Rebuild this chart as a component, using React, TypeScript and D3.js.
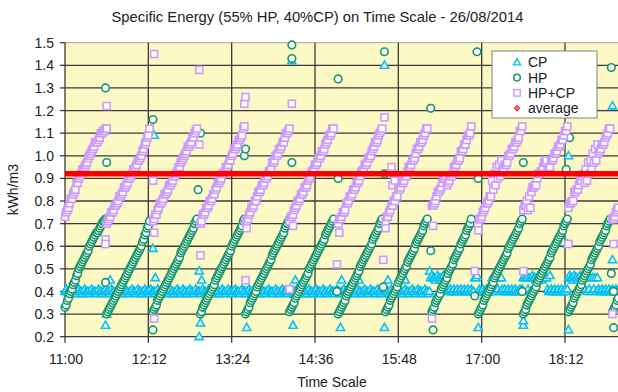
import React from "react";
import * as d3 from "d3";

// ---------- DATA ----------
const chartTitle = "Specific Energy (55% HP, 40%CP)  on Time Scale - 26/08/2014";
const yAxisTitle = "kWh/m3";
const xAxisTitle = "Time Scale";
const xTickLabels = ["11:00", "12:12", "13:24", "14:36", "15:48", "17:00", "18:12"];
const yTickValues = [0.2, 0.3, 0.4, 0.5, 0.6, 0.7, 0.8, 0.9, 1.0, 1.1, 1.2, 1.3, 1.4, 1.5];
const seriesNames = ["CP", "HP", "HP+CP", "average"];

// logged every minute
const sampleStepMin = 1;

// start time of each HP charging cycle (ramp)
const cycleStarts = ["11:00", "11:36", "12:16", "12:57", "13:36", "14:14", "14:56", "15:37", "16:17", "16:57", "17:36", "18:15", "18:53"];

// HP specific energy, one row per cycle
const hpCycles = [
  [0.33, 0.34, 0.36, 0.37, 0.39, 0.40, 0.41, 0.43, 0.44, 0.45, 0.47, 0.48, 0.50, 0.51, 0.52, 0.53, 0.54, 0.55, 0.56, 0.57, 0.58, 0.60, 0.61, 0.62, 0.63, 0.64, 0.65, 0.66, 0.66, 0.67, 0.68, 0.69, 0.70, 0.71, 0.71, 0.72, 0.72],
  [0.30, 0.31, 0.32, 0.33, 0.34, 0.35, 0.36, 0.37, 0.38, 0.39, 0.40, 0.41, 0.42, 0.43, 0.44, 0.45, 0.46, 0.47, 0.48, 0.49, 0.50, 0.51, 0.52, 0.53, 0.54, 0.55, 0.56, 0.57, 0.58, 0.59, 0.60, 0.62, 0.63, 0.65, 0.66, 0.68, 0.69, 0.71],
  [0.31, 0.32, 0.33, 0.34, 0.36, 0.37, 0.38, 0.39, 0.40, 0.41, 0.42, 0.43, 0.44, 0.45, 0.46, 0.47, 0.48, 0.49, 0.50, 0.51, 0.52, 0.53, 0.54, 0.55, 0.57, 0.58, 0.59, 0.60, 0.61, 0.62, 0.63, 0.64, 0.65, 0.66, 0.67, 0.68, 0.70, 0.71, 0.72],
  [0.30, 0.31, 0.33, 0.34, 0.35, 0.36, 0.37, 0.38, 0.39, 0.40, 0.41, 0.42, 0.43, 0.45, 0.46, 0.47, 0.48, 0.49, 0.50, 0.51, 0.52, 0.53, 0.54, 0.55, 0.56, 0.57, 0.58, 0.60, 0.61, 0.62, 0.63, 0.64, 0.65, 0.66, 0.67, 0.68, 0.69, 0.71, 0.72],
  [0.30, 0.31, 0.32, 0.33, 0.35, 0.36, 0.37, 0.38, 0.39, 0.40, 0.42, 0.43, 0.44, 0.45, 0.46, 0.47, 0.48, 0.49, 0.50, 0.51, 0.52, 0.53, 0.54, 0.56, 0.57, 0.58, 0.59, 0.60, 0.61, 0.62, 0.63, 0.64, 0.65, 0.66, 0.68, 0.69, 0.70, 0.71, 0.72],
  [0.31, 0.32, 0.33, 0.34, 0.35, 0.37, 0.38, 0.39, 0.40, 0.41, 0.42, 0.43, 0.44, 0.45, 0.46, 0.47, 0.48, 0.50, 0.51, 0.52, 0.53, 0.54, 0.55, 0.56, 0.57, 0.58, 0.59, 0.60, 0.61, 0.62, 0.63, 0.65, 0.66, 0.67, 0.68, 0.69, 0.70, 0.71, 0.72],
  [0.30, 0.31, 0.32, 0.33, 0.34, 0.35, 0.36, 0.38, 0.39, 0.40, 0.41, 0.42, 0.43, 0.44, 0.45, 0.46, 0.47, 0.48, 0.49, 0.51, 0.52, 0.53, 0.54, 0.55, 0.56, 0.57, 0.58, 0.59, 0.60, 0.61, 0.63, 0.64, 0.65, 0.66, 0.67, 0.68, 0.70, 0.71, 0.72],
  [0.31, 0.32, 0.33, 0.34, 0.36, 0.37, 0.38, 0.39, 0.40, 0.41, 0.42, 0.44, 0.45, 0.46, 0.47, 0.48, 0.49, 0.50, 0.51, 0.53, 0.54, 0.55, 0.56, 0.57, 0.58, 0.59, 0.61, 0.62, 0.63, 0.64, 0.65, 0.66, 0.67, 0.69, 0.70, 0.71, 0.72],
  [0.31, 0.32, 0.33, 0.35, 0.36, 0.37, 0.38, 0.39, 0.41, 0.42, 0.43, 0.44, 0.45, 0.46, 0.48, 0.49, 0.50, 0.51, 0.52, 0.54, 0.55, 0.56, 0.57, 0.58, 0.59, 0.61, 0.62, 0.63, 0.64, 0.65, 0.67, 0.68, 0.69, 0.70, 0.72],
  [0.30, 0.31, 0.32, 0.33, 0.34, 0.36, 0.37, 0.38, 0.39, 0.40, 0.41, 0.42, 0.43, 0.44, 0.46, 0.47, 0.48, 0.49, 0.50, 0.51, 0.52, 0.53, 0.54, 0.55, 0.56, 0.57, 0.59, 0.60, 0.61, 0.62, 0.63, 0.64, 0.65, 0.66, 0.67, 0.68, 0.70, 0.71, 0.72],
  [0.30, 0.31, 0.32, 0.34, 0.35, 0.36, 0.37, 0.38, 0.39, 0.40, 0.41, 0.42, 0.44, 0.45, 0.46, 0.47, 0.48, 0.49, 0.50, 0.51, 0.52, 0.53, 0.54, 0.55, 0.57, 0.58, 0.59, 0.60, 0.61, 0.62, 0.63, 0.64, 0.65, 0.66, 0.67, 0.69, 0.70, 0.71, 0.72],
  [0.31, 0.32, 0.33, 0.34, 0.35, 0.37, 0.38, 0.39, 0.40, 0.41, 0.42, 0.43, 0.45, 0.46, 0.47, 0.48, 0.49, 0.50, 0.51, 0.52, 0.54, 0.55, 0.56, 0.57, 0.58, 0.59, 0.60, 0.62, 0.63, 0.64, 0.65, 0.66, 0.67, 0.69, 0.70, 0.71, 0.72],
  [0.31, 0.32, 0.33, 0.34, 0.36, 0.37],
];

// HP+CP specific energy, one row per cycle
const hpcpCycles = [
  [0.73, 0.75, 0.76, 0.77, 0.79, 0.81, 0.81, 0.83, 0.84, 0.85, 0.88, 0.88, 0.90, 0.91, 0.92, 0.94, 0.94, 0.95, 0.96, 0.97, 0.99, 1.00, 1.01, 1.02, 1.03, 1.04, 1.06, 1.06, 1.06, 1.07, 1.08, 1.10, 1.10, 1.11, 1.11, 1.12, 1.12],
  [0.70, 0.71, 0.72, 0.73, 0.75, 0.75, 0.76, 0.78, 0.78, 0.79, 0.80, 0.82, 0.82, 0.83, 0.84, 0.86, 0.86, 0.87, 0.88, 0.90, 0.90, 0.91, 0.92, 0.94, 0.94, 0.95, 0.96, 0.98, 0.98, 0.99, 1.00, 1.02, 1.03, 1.05, 1.06, 1.08, 1.09, 1.12],
  [0.71, 0.72, 0.74, 0.74, 0.76, 0.77, 0.79, 0.79, 0.80, 0.81, 0.83, 0.83, 0.84, 0.85, 0.87, 0.87, 0.88, 0.89, 0.91, 0.91, 0.92, 0.93, 0.95, 0.95, 0.97, 0.98, 0.99, 1.00, 1.01, 1.02, 1.04, 1.04, 1.05, 1.06, 1.08, 1.08, 1.10, 1.11, 1.12],
  [0.70, 0.71, 0.74, 0.74, 0.75, 0.77, 0.77, 0.78, 0.80, 0.80, 0.81, 0.83, 0.83, 0.85, 0.86, 0.88, 0.88, 0.89, 0.90, 0.92, 0.92, 0.93, 0.95, 0.95, 0.96, 0.98, 0.98, 1.00, 1.01, 1.03, 1.03, 1.04, 1.05, 1.07, 1.07, 1.08, 1.09, 1.12, 1.13],
  [0.71, 0.71, 0.72, 0.74, 0.75, 0.77, 0.77, 0.78, 0.80, 0.80, 0.82, 0.84, 0.84, 0.85, 0.87, 0.87, 0.88, 0.90, 0.90, 0.91, 0.93, 0.93, 0.94, 0.97, 0.97, 0.98, 1.00, 1.00, 1.01, 1.03, 1.03, 1.04, 1.06, 1.06, 1.08, 1.10, 1.10, 1.11, 1.12],
  [0.71, 0.73, 0.73, 0.74, 0.76, 0.77, 0.78, 0.80, 0.80, 0.81, 0.83, 0.83, 0.84, 0.86, 0.86, 0.87, 0.89, 0.90, 0.91, 0.93, 0.93, 0.94, 0.96, 0.96, 0.97, 0.99, 0.99, 1.00, 1.02, 1.02, 1.03, 1.05, 1.06, 1.07, 1.09, 1.09, 1.10, 1.12, 1.12],
  [0.70, 0.72, 0.72, 0.73, 0.75, 0.75, 0.76, 0.79, 0.79, 0.80, 0.82, 0.82, 0.83, 0.85, 0.85, 0.86, 0.88, 0.88, 0.89, 0.91, 0.93, 0.93, 0.94, 0.96, 0.96, 0.97, 0.99, 0.99, 1.00, 1.02, 1.03, 1.04, 1.06, 1.06, 1.07, 1.09, 1.10, 1.11, 1.12],
  [0.71, 0.73, 0.73, 0.75, 0.76, 0.78, 0.78, 0.80, 0.80, 0.82, 0.82, 0.85, 0.85, 0.86, 0.88, 0.88, 0.89, 0.91, 0.91, 0.93, 0.95, 0.95, 0.96, 0.98, 0.98, 0.99, 1.01, 1.03, 1.03, 1.04, 1.06, 1.06, 1.07, 1.09, 1.10, 1.12, 1.12],
  [0.78, 0.78, 0.79, 0.80, 0.82, 0.84, 0.84, 0.85, 0.86, 0.88, 0.90, 0.90, 0.91, 0.87, 0.88, 0.89, 0.91, 0.91, 0.92, 0.95, 0.95, 0.96, 0.98, 0.98, 0.99, 1.02, 1.02, 1.03, 1.05, 1.05, 1.07, 1.09, 1.09, 1.10, 1.13],
  [0.70, 0.72, 0.72, 0.73, 0.75, 0.76, 0.77, 0.79, 0.79, 0.80, 0.82, 0.82, 0.89, 0.85, 0.92, 0.87, 0.95, 0.90, 0.96, 0.91, 0.98, 0.94, 0.94, 0.96, 0.96, 0.97, 1.00, 1.00, 1.01, 1.03, 1.03, 1.04, 1.06, 1.06, 1.07, 1.08, 1.11, 1.11, 1.13],
  [0.76, 0.78, 0.78, 0.80, 0.76, 0.82, 0.77, 0.84, 0.86, 0.86, 0.87, 0.87, 0.90, 0.92, 0.92, 0.93, 0.93, 0.95, 0.97, 0.97, 0.98, 0.94, 0.94, 0.95, 0.98, 0.98, 0.99, 1.01, 1.01, 1.02, 1.04, 1.04, 1.05, 1.07, 1.07, 1.09, 1.11, 1.11, 1.13],
  [0.77, 0.79, 0.79, 0.80, 0.80, 0.84, 0.84, 0.85, 0.85, 0.87, 0.89, 0.89, 0.91, 0.92, 0.88, 0.94, 0.89, 0.97, 0.92, 0.98, 0.94, 1.01, 0.97, 1.03, 0.98, 1.05, 1.01, 1.02, 1.03, 1.05, 1.05, 1.06, 1.08, 1.09, 1.10, 1.12, 1.12],
  [0.72, 0.72, 0.73, 0.75, 0.76, 0.77],
];

// CP specific energy, continuous log from 11:00 (rows of 20 minutes)
const cpStart = "11:00";
const cpValues = [
  0.40, 0.41, 0.40, 0.40, 0.39, 0.40, 0.41, 0.40, 0.40, 0.40, 0.39, 0.40, 0.41, 0.40, 0.40, 0.39, 0.40, 0.41, 0.40, 0.40,
  0.40, 0.39, 0.40, 0.41, 0.40, 0.40, 0.40, 0.39, 0.40, 0.41, 0.40, 0.40, 0.39, 0.40, 0.40, 0.41, 0.40, 0.40, 0.39, 0.40,
  0.41, 0.40, 0.40, 0.39, 0.40, 0.40, 0.41, 0.40, 0.40, 0.40, 0.39, 0.40, 0.41, 0.40, 0.40, 0.39, 0.40, 0.40, 0.41, 0.40,
  0.40, 0.39, 0.40, 0.41, 0.40, 0.40, 0.39, 0.40, 0.40, 0.41, 0.40, 0.40, 0.39, 0.40, 0.41, 0.40, 0.40, 0.40, 0.39, 0.40,
  0.41, 0.40, 0.40, 0.39, 0.40, 0.41, 0.40, 0.40, 0.40, 0.39, 0.40, 0.41, 0.40, 0.40, 0.39, 0.40, 0.40, 0.41, 0.40, 0.40,
  0.39, 0.40, 0.41, 0.40, 0.40, 0.39, 0.40, 0.40, 0.41, 0.40, 0.40, 0.39, 0.40, 0.41, 0.40, 0.40, 0.40, 0.39, 0.40, 0.41,
  0.40, 0.40, 0.39, 0.40, 0.41, 0.40, 0.40, 0.40, 0.39, 0.40, 0.41, 0.40, 0.40, 0.39, 0.40, 0.40, 0.41, 0.40, 0.40, 0.39,
  0.40, 0.41, 0.40, 0.40, 0.39, 0.40, 0.40, 0.41, 0.40, 0.40, 0.40, 0.39, 0.40, 0.41, 0.40, 0.40, 0.39, 0.40, 0.40, 0.41,
  0.40, 0.40, 0.39, 0.40, 0.41, 0.40, 0.40, 0.40, 0.39, 0.40, 0.41, 0.40, 0.40, 0.39, 0.40, 0.40, 0.41, 0.40, 0.40, 0.40,
  0.39, 0.40, 0.41, 0.40, 0.40, 0.39, 0.40, 0.40, 0.41, 0.40, 0.40, 0.40, 0.39, 0.40, 0.41, 0.40, 0.40, 0.39, 0.40, 0.40,
  0.41, 0.40, 0.40, 0.39, 0.40, 0.41, 0.40, 0.40, 0.40, 0.39, 0.40, 0.41, 0.40, 0.40, 0.39, 0.40, 0.40, 0.41, 0.40, 0.40,
  0.40, 0.39, 0.40, 0.41, 0.40, 0.40, 0.39, 0.40, 0.40, 0.41, 0.40, 0.40, 0.40, 0.39, 0.40, 0.41, 0.40, 0.40, 0.39, 0.40,
  0.40, 0.41, 0.40, 0.40, 0.39, 0.40, 0.40, 0.41, 0.40, 0.40, 0.40, 0.39, 0.40, 0.41, 0.40, 0.40, 0.39, 0.40, 0.40, 0.41,
  0.40, 0.40, 0.39, 0.40, 0.41, 0.40, 0.40, 0.40, 0.39, 0.40, 0.41, 0.40, 0.40, 0.39, 0.40, 0.40, 0.41, 0.40, 0.40, 0.40,
  0.39, 0.40, 0.41, 0.40, 0.40, 0.39, 0.40, 0.40, 0.41, 0.40, 0.40, 0.40, 0.39, 0.40, 0.41, 0.40, 0.40, 0.39, 0.40, 0.40,
  0.41, 0.40, 0.40, 0.39, 0.40, 0.41, 0.40, 0.40, 0.40, 0.39, 0.40, 0.41, 0.40, 0.40, 0.39, 0.40, 0.46, 0.47, 0.46, 0.46,
  0.45, 0.46, 0.47, 0.46, 0.46, 0.45, 0.46, 0.47, 0.46, 0.46, 0.41, 0.40, 0.40, 0.41, 0.40, 0.40, 0.41, 0.40, 0.40, 0.41,
  0.40, 0.40, 0.41, 0.40, 0.40, 0.41, 0.40, 0.40, 0.41, 0.40, 0.40, 0.41, 0.40, 0.40, 0.46, 0.46, 0.47, 0.40, 0.41, 0.40,
  0.40, 0.41, 0.40, 0.40, 0.41, 0.40, 0.40, 0.41, 0.40, 0.46, 0.41, 0.46, 0.40, 0.47, 0.41, 0.46, 0.40, 0.46, 0.41, 0.40,
  0.41, 0.40, 0.40, 0.41, 0.40, 0.40, 0.41, 0.40, 0.40, 0.41, 0.40, 0.40, 0.40, 0.41, 0.40, 0.41, 0.46, 0.47, 0.46, 0.46,
  0.41, 0.46, 0.40, 0.46, 0.47, 0.46, 0.46, 0.45, 0.46, 0.47, 0.46, 0.46, 0.45, 0.46, 0.47, 0.46, 0.46, 0.41, 0.40, 0.40,
  0.41, 0.40, 0.40, 0.41, 0.40, 0.40, 0.41, 0.40, 0.40, 0.41, 0.40, 0.40, 0.41, 0.40, 0.41, 0.46, 0.47, 0.46, 0.46, 0.45,
  0.47, 0.46, 0.46, 0.45, 0.46, 0.47, 0.46, 0.46, 0.46, 0.41, 0.46, 0.40, 0.47, 0.41, 0.46, 0.40, 0.46, 0.41, 0.46, 0.40,
  0.46, 0.41, 0.40, 0.40, 0.41, 0.40, 0.40, 0.41, 0.40, 0.40, 0.41, 0.40, 0.40, 0.41, 0.40, 0.40, 0.41, 0.40, 0.40, 0.41,
];

// isolated readings (switch-over moments)
const hpOutliers: [string, number][] = [
  ["11:35", 1.30], ["11:36", 0.97], ["11:35", 0.44],
  ["12:16", 1.16], ["12:16", 0.23],
  ["12:57", 1.10], ["12:55", 0.85],
  ["13:36", 1.03], ["13:35", 1.00],
  ["14:16", 1.49], ["14:16", 1.43], ["14:16", 0.97],
  ["14:56", 1.34], ["14:56", 0.90], ["14:55", 0.40],
  ["15:36", 1.46], ["15:36", 0.92], ["15:35", 0.42],
  ["16:16", 1.21], ["16:16", 0.58], ["16:18", 0.23],
  ["16:56", 1.46], ["16:57", 0.90], ["16:54", 0.38],
  ["17:36", 0.97], ["17:35", 0.40],
  ["18:16", 1.08], ["18:13", 0.94],
  ["18:52", 1.39], ["18:54", 0.24], ["18:52", 0.48], ["18:54", 0.40],
];
const hpcpOutliers: [string, number][] = [
  ["11:36", 1.22], ["11:35", 0.63], ["11:35", 0.61],
  ["12:17", 1.45], ["12:16", 0.89], ["12:17", 0.66], ["12:17", 0.28],
  ["12:56", 1.38], ["12:56", 1.05], ["12:57", 0.70], ["12:57", 0.56],
  ["13:36", 1.26], ["13:35", 1.23], ["13:37", 0.68], ["13:36", 0.45],
  ["14:16", 1.23], ["14:17", 0.69], ["14:14", 0.41],
  ["14:57", 0.66], ["14:55", 0.52],
  ["15:36", 1.17], ["15:37", 0.68], ["15:35", 0.54],
  ["15:42", 0.95], ["15:44", 0.92], ["15:45", 0.89], ["15:43", 0.87],
  ["16:18", 0.69], ["16:17", 0.28],
  ["16:57", 0.67], ["16:54", 0.49],
  ["17:36", 0.49],
  ["18:15", 0.61],
  ["18:54", 0.61], ["18:53", 0.30],
];
const cpOutliers: [string, number][] = [
  ["11:39", 0.45], ["11:35", 0.25], ["11:36", 0.30],
  ["12:17", 1.09], ["12:16", 0.59], ["12:18", 0.46],
  ["12:56", 0.49], ["12:58", 0.45], ["12:57", 0.26], ["12:56", 0.20],
  ["13:37", 0.24],
  ["14:19", 0.45], ["14:17", 0.25], ["14:16", 1.42],
  ["14:59", 0.45], ["14:58", 0.24], ["15:14", 0.45],
  ["15:36", 1.40], ["15:39", 0.45], ["15:36", 0.24], ["15:54", 0.45],
  ["16:15", 0.49],
  ["16:57", 0.24], ["17:16", 0.46],
  ["17:36", 0.25], ["17:36", 0.27], ["17:59", 0.47],
  ["18:15", 1.00], ["18:14", 0.61], ["18:15", 0.23],
  ["18:53", 1.22], ["18:53", 0.54],
];
const averageValue = 0.92;

// ---------- CHART ----------
const W = 618;
const H = 392;
const FONT = "'Liberation Sans', Arial, Helvetica, sans-serif";
const C_CP = "#05c0f0";
const C_HP = "#17966a";
const C_HPCP = "#cc99ff";
const C_AVG = "#ff0000";

const parseT = d3.timeParse("%H:%M");
const T = (s: string) => parseT(s) as Date;

type Pt = { t: Date; v: number };

function buildCycles(rows: number[][]): Pt[] {
  const out: Pt[] = [];
  rows.forEach((row, ci) => {
    const t0 = T(cycleStarts[ci]);
    row.forEach((v, i) => out.push({ t: d3.timeMinute.offset(t0, i * sampleStepMin), v }));
  });
  return out;
}
const fromPairs = (p: [string, number][]): Pt[] => p.map(([s, v]) => ({ t: T(s), v }));
const byTime = (a: Pt, b: Pt) => +a.t - +b.t;

const triPath = "M0,-4.2L4.1,2.9L-4.1,2.9Z";
const R = 3.8;
const SQ = 7;
const SW = 1.6;

export default function App() {
  const left = 65;
  const top = 42.7;
  const bottom = 336.7;

  const x = d3.scaleTime().domain([T(xTickLabels[0]), T(xTickLabels[xTickLabels.length - 1])]).range([left, 565]);
  const y = d3.scaleLinear().domain([0.2, 1.5]).range([bottom, top]);

  const cpPts = [
    ...cpValues.map((v, i) => ({ t: d3.timeMinute.offset(T(cpStart), i * sampleStepMin), v })),
    ...fromPairs(cpOutliers),
  ].sort(byTime);
  const hpPts = [...buildCycles(hpCycles), ...fromPairs(hpOutliers)].sort(byTime);
  const hpcpPts = [...buildCycles(hpcpCycles), ...fromPairs(hpcpOutliers)].sort(byTime);

  const tFirst = T(cpStart);
  const tLast = d3.timeMinute.offset(tFirst, (cpValues.length + 8) * sampleStepMin);
  const avgLine = d3.line<Date>().x((d) => x(d)).y(() => y(averageValue))([tFirst, tLast]) || "";

  const lgX = 492, lgY = 51;

  return (
    <div style={{ position: "absolute", left: 0, top: 0 }}>
      <svg width={W} height={H} style={{ display: "block", background: "#fff" }} fontFamily={FONT}>
        <defs>
          <clipPath id="plotClip">
            <rect x={left - 5} y={top - 5} width={W} height={bottom - top + 10} />
          </clipPath>
        </defs>
        {/* plot background */}
        <rect x={left} y={top} width={W - left} height={bottom - top} fill="#fcf9c5" />
        {/* horizontal grid */}
        {yTickValues.map((v) => (
          <line key={"h" + v} x1={left} x2={W} y1={y(v)} y2={y(v)}
            stroke={v === 1.5 ? "#a0a0a0" : "#3a3a3a"} strokeWidth={v === 1.5 ? 1 : 1.3} />
        ))}
        {/* vertical grid */}
        {xTickLabels.map((s) => (
          <line key={"v" + s} x1={x(T(s))} x2={x(T(s))} y1={top} y2={bottom} stroke="#3a3a3a" strokeWidth={1.3} />
        ))}
        {/* y ticks */}
        {yTickValues.map((v) => (
          <g key={"yt" + v}>
            <line x1={left - 5} x2={left} y1={y(v)} y2={y(v)} stroke="#3a3a3a" strokeWidth={1.3} />
            <text x={54} y={y(v)} dy="0.36em" textAnchor="end" fontSize={14} fill="#222">{v.toFixed(1)}</text>
          </g>
        ))}
        {/* x ticks */}
        {xTickLabels.map((s) => (
          <g key={"xt" + s}>
            <line x1={x(T(s))} x2={x(T(s))} y1={bottom} y2={bottom + 6} stroke="#3a3a3a" strokeWidth={1.3} />
            <text x={x(T(s)) + 1} y={364} textAnchor="middle" fontSize={14} fill="#222">{s}</text>
          </g>
        ))}

        <g clipPath="url(#plotClip)">
          {cpPts.map((d, i) => (
            <path key={"cp" + i} d={triPath} transform={`translate(${x(d.t)},${y(d.v)})`}
              fill="#ffffff" stroke={C_CP} strokeWidth={SW} />
          ))}
          {hpPts.map((d, i) => (
            <circle key={"hp" + i} cx={x(d.t)} cy={y(d.v)} r={R} fill="#ffffff" stroke={C_HP} strokeWidth={SW} />
          ))}
          {hpcpPts.map((d, i) => (
            <rect key={"hc" + i} x={x(d.t) - SQ / 2} y={y(d.v) - SQ / 2} width={SQ} height={SQ}
              fill="#ffffff" stroke={C_HPCP} strokeWidth={SW} />
          ))}
          <path d={avgLine} stroke={C_AVG} strokeWidth={5.5} fill="none" />
        </g>

        {/* legend */}
        <rect x={lgX} y={lgY} width={105} height={67} fill="#ffffff" stroke="#808080" strokeWidth={1} />
        {seriesNames.map((name, i) => {
          const cy = 62.3 + i * 15.3;
          const mx = 517;
          let marker: React.ReactNode = null;
          if (i === 0) marker = <path d="M0,-3.7L3.6,2.6L-3.6,2.6Z" transform={`translate(${mx},${cy})`} fill="#fff" stroke={C_CP} strokeWidth={1.4} />;
          if (i === 1) marker = <circle cx={mx} cy={cy} r={3.3} fill="#fff" stroke={C_HP} strokeWidth={1.5} />;
          if (i === 2) marker = <rect x={mx - 3.2} y={cy - 3.2} width={6.4} height={6.4} fill="#fff" stroke={C_HPCP} strokeWidth={1.4} />;
          if (i === 3) marker = <path d="M0,-2.8L2.8,0L0,2.8L-2.8,0Z" transform={`translate(${mx},${cy})`} fill="#ff7070" stroke={C_AVG} strokeWidth={1} />;
          return (
            <g key={name}>
              {marker}
              <text x={528} y={cy} dy="0.36em" fontSize={14} fill="#222">{name}</text>
            </g>
          );
        })}

        {/* titles */}
        <text x={317.5} y={22} textAnchor="middle" fontSize={14.5} fill="#222" textLength={412} lengthAdjust="spacingAndGlyphs">{chartTitle}</text>
        <text transform={`translate(18,${(top + bottom) / 2}) rotate(-90)`} textAnchor="middle" fontSize={14} fill="#222">{yAxisTitle}</text>
        <text x={332} y={387} textAnchor="middle" fontSize={14} fill="#222">{xAxisTitle}</text>
      </svg>
    </div>
  );
}
